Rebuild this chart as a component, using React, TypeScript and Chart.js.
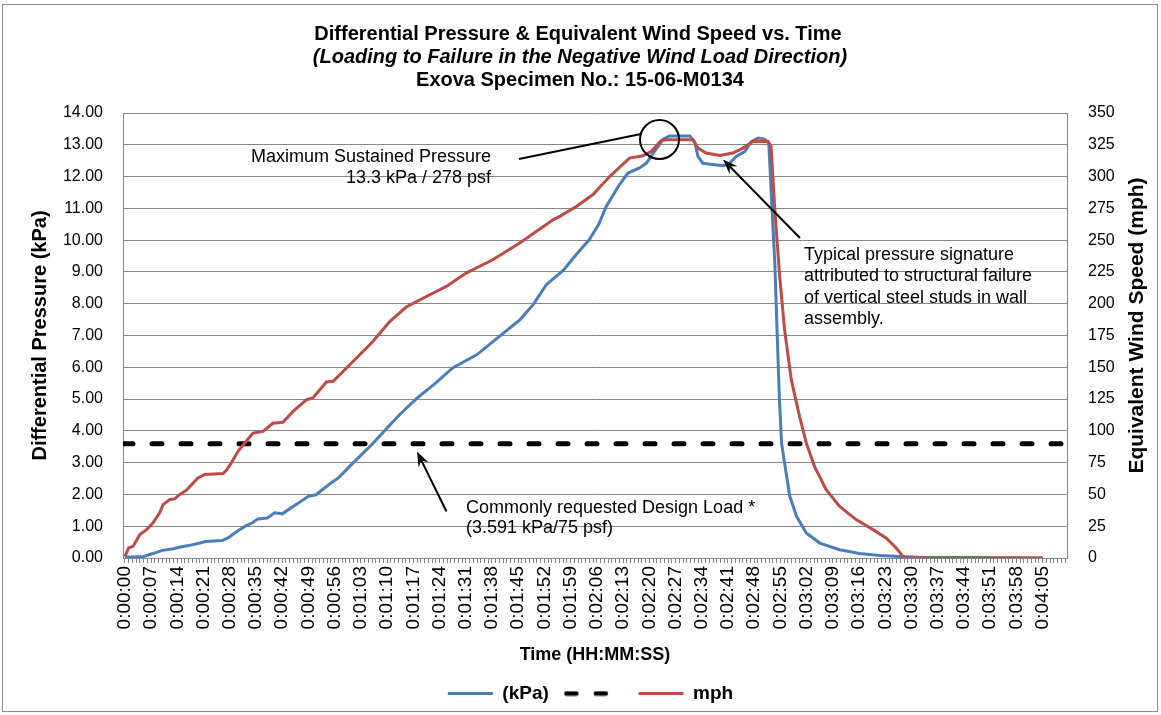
import React, { useEffect, useRef } from 'react';
import { Chart, registerables } from 'chart.js';

Chart.register(...registerables);

const FONT = '"Liberation Sans", Arial, Helvetica, sans-serif';
const BLUE = '#4A7EBB';
const RED = '#BE4B48';
const GRID = '#868686';

const titleLines = [
  'Differential Pressure & Equivalent Wind Speed vs. Time',
  '(Loading to Failure in the Negative Wind Load Direction)',
  'Exova Specimen No.: 15-06-M0134',
];
const leftAxisTitle = 'Differential Pressure (kPa)';
const rightAxisTitle = 'Equivalent Wind Speed (mph)';
const bottomAxisTitle = 'Time (HH:MM:SS)';

// x axis: one category per second, labelled every 7 s
const timeLabels = [
  '0:00:00', '0:00:07', '0:00:14', '0:00:21', '0:00:28', '0:00:35', '0:00:42', '0:00:49', '0:00:56',
  '0:01:03', '0:01:10', '0:01:17', '0:01:24', '0:01:31', '0:01:38', '0:01:45', '0:01:52', '0:01:59',
  '0:02:06', '0:02:13', '0:02:20', '0:02:27', '0:02:34', '0:02:41', '0:02:48', '0:02:55', '0:03:02',
  '0:03:09', '0:03:16', '0:03:23', '0:03:30', '0:03:37', '0:03:44', '0:03:51', '0:03:58', '0:04:05',
];
const labelStepSeconds = 7;
const timeAxisMin = -0.5;
const timeAxisMax = 251.5;
const lastSecond = 251;

const kpaTicks = [0, 1, 2, 3, 4, 5, 6, 7, 8, 9, 10, 11, 12, 13, 14];
const mphTicks = [0, 25, 50, 75, 100, 125, 150, 175, 200, 225, 250, 275, 300, 325, 350];

// Differential pressure (kPa) vs time (s)
const kpaTimes = [
  0, 5, 7.5, 10, 13, 14.5, 17, 20, 21.5, 26, 27.5, 30, 32.5, 34, 35.5, 38, 40, 42, 45, 49, 51, 55, 57,
  61, 66, 70, 73.5, 78, 83, 87.5, 94, 100, 105.5, 109, 112.5, 117, 120.5, 124, 126.5, 128.5, 132,
  134.3, 137.4, 139.2, 141.4, 143.7, 145.4, 150.8, 152.1, 153, 154.3, 159.7, 161.4, 163.2, 165.5,
  167.2, 169, 170.8, 171.9, 172.6, 173.5, 174.1, 174.7, 175.3, 176.1, 177.5, 179.3, 181.9, 185.5,
  190.8, 196.1, 201.5, 206.8, 212, 245,
];
const kpaValues = [
  0.02, 0.05, 0.14, 0.24, 0.29, 0.34, 0.39, 0.47, 0.52, 0.55, 0.63, 0.84, 1.03, 1.1, 1.23, 1.26, 1.42,
  1.39, 1.63, 1.94, 1.99, 2.36, 2.52, 3.0, 3.58, 4.09, 4.53, 5.03, 5.51, 5.98, 6.4, 6.97, 7.5, 7.97,
  8.6, 9.05, 9.55, 10.02, 10.5, 11.06, 11.74, 12.11, 12.27, 12.42, 12.79, 13.18, 13.28, 13.28, 13.1,
  12.63, 12.42, 12.34, 12.42, 12.63, 12.79, 13.1, 13.21, 13.18, 13.05, 11.37, 9.28, 7.18, 5.08, 3.62,
  2.99, 1.94, 1.31, 0.79, 0.47, 0.26, 0.14, 0.08, 0.05, 0.02, 0,
];

// Equivalent wind speed (mph) vs time (s)
const mphTimes = [
  0, 1, 2.2, 4, 5.8, 7.5, 9.3, 10.2, 12, 13.3, 14.6, 16.4, 19.5, 21.3, 26.2, 27.1, 28.4, 30.2, 32,
  34.2, 36.9, 39.5, 42.2, 44.9, 48.5, 50.2, 53.8, 55.6, 60.9, 66.2, 70.7, 75.1, 80.5, 85.8, 91.1,
  98.2, 105.4, 114.3, 116.1, 120.5, 124.9, 129.4, 134.7, 138.3, 140.5, 143.2, 144.5, 151.6, 153,
  155.2, 158.8, 162.3, 165, 167.7, 171.7, 172.5, 173.5, 174.8, 176.1, 177.9, 180.1, 181.9, 184.1,
  187.2, 190.8, 195.2, 199.7, 203.2, 205.9, 207.7, 208.5, 245,
];
const mphValues = [
  1, 8, 9.2, 18.4, 22.3, 27.6, 35.5, 42, 46, 46.5, 49.8, 53.2, 63, 65.6, 66.4, 69, 74.8, 83.9, 90.5,
  98.3, 99.6, 106, 106.7, 115.3, 124.5, 125.9, 138.4, 139, 154.6, 170.3, 186, 197.4, 205.7, 213.6,
  224.1, 234.6, 247.7, 266, 268.7, 276.5, 285.7, 300, 314.5, 316.3, 319.7, 328.4, 329, 329, 322.4,
  318.5, 316.6, 318.5, 322.4, 327.6, 327.6, 323.7, 274, 221.5, 179.6, 140.3, 111.4, 90.5, 72.1, 53.8,
  40.6, 30.2, 22.3, 15.8, 7.9, 1.3, 0, 0,
];

const designLoadKpa = 3.591;
const designLoadTimes = [timeAxisMin, timeAxisMax];

const maxPressureNote = ['Maximum Sustained Pressure', '13.3 kPa / 278 psf'];
const failureNote = [
  'Typical pressure signature',
  'attributed to structural failure',
  'of vertical steel studs in wall',
  'assembly.',
];
const designNote = ['Commonly requested Design Load *', '(3.591 kPa/75 psf)'];

function drawArrow(ctx: CanvasRenderingContext2D, x1: number, y1: number, x2: number, y2: number) {
  const a = Math.atan2(y2 - y1, x2 - x1);
  const L = 15;
  const W = 5.5;
  const c = Math.cos(a);
  const s = Math.sin(a);
  ctx.beginPath();
  ctx.moveTo(x1, y1);
  ctx.lineTo(x2 - c * L * 0.6, y2 - s * L * 0.6);
  ctx.stroke();
  ctx.beginPath();
  ctx.moveTo(x2, y2);
  ctx.lineTo(x2 - L * c + W * s, y2 - L * s - W * c);
  ctx.lineTo(x2 - L * 0.65 * c, y2 - L * 0.65 * s);
  ctx.lineTo(x2 - L * c - W * s, y2 - L * s + W * c);
  ctx.closePath();
  ctx.fill();
}

function makeDashSample(): HTMLCanvasElement {
  const c = document.createElement('canvas');
  c.width = 45;
  c.height = 6;
  const g = c.getContext('2d');
  if (g) {
    g.strokeStyle = '#000';
    g.lineWidth = 4.5;
    g.lineCap = 'round';
    g.beginPath();
    g.moveTo(2.5, 3);
    g.lineTo(12.5, 3);
    g.moveTo(32, 3);
    g.lineTo(42, 3);
    g.stroke();
  }
  return c;
}

const overlayPlugin = {
  id: 'overlay',
  afterDraw(chart: any) {
    const ctx: CanvasRenderingContext2D = chart.ctx;
    const area = chart.chartArea;
    ctx.save();
    // chart border
    ctx.strokeStyle = '#8c8c8c';
    ctx.lineWidth = 1;
    ctx.strokeRect(2.5, 4.5, 1155, 707);

    // titles
    ctx.fillStyle = '#000';
    ctx.textAlign = 'center';
    ctx.textBaseline = 'middle';
    ctx.font = `bold 20px ${FONT}`;
    ctx.fillText(titleLines[0], 578, 34);
    ctx.font = `italic bold 20px ${FONT}`;
    ctx.fillText(titleLines[1], 580, 57);
    ctx.font = `bold 20px ${FONT}`;
    ctx.fillText(titleLines[2], 580, 80);

    // axis titles
    const cy = (area.top + area.bottom) / 2;
    ctx.font = `bold 20px ${FONT}`;
    ctx.save();
    ctx.translate(40, cy);
    ctx.rotate(-Math.PI / 2);
    ctx.fillText(leftAxisTitle, 0, 0);
    ctx.restore();
    ctx.font = `bold 21px ${FONT}`;
    ctx.save();
    ctx.translate(1137, cy - 10);
    ctx.rotate(-Math.PI / 2);
    ctx.fillText(rightAxisTitle, 0, 0);
    ctx.restore();

    // annotations
    ctx.font = `18px ${FONT}`;
    ctx.strokeStyle = '#000';
    ctx.fillStyle = '#000';
    ctx.lineWidth = 2;
    ctx.textAlign = 'right';
    ctx.fillText(maxPressureNote[0], 491, 157);
    ctx.fillText(maxPressureNote[1], 491, 178);
    ctx.beginPath();
    ctx.moveTo(519, 159);
    ctx.lineTo(641, 134);
    ctx.stroke();
    ctx.beginPath();
    ctx.arc(659.5, 139.5, 19.5, 0, Math.PI * 2);
    ctx.stroke();

    ctx.textAlign = 'left';
    failureNote.forEach((t, i) => ctx.fillText(t, 804, 255 + i * 21.4));
    drawArrow(ctx, 800, 238, 723, 159.5);

    designNote.forEach((t, i) => ctx.fillText(t, 466, 508 + i * 20.5));
    drawArrow(ctx, 446.5, 511.5, 417, 451.5);
    ctx.restore();
  },
};

export default function App() {
  const ref = useRef<HTMLCanvasElement | null>(null);

  useEffect(() => {
    document.body.style.margin = '0';
    const canvas = ref.current;
    if (!canvas) return;
    Chart.defaults.font.family = FONT;
    Chart.defaults.color = '#000';

    const minorSeconds = Array.from({ length: lastSecond + 1 }, (_, i) => i);
    const dashSample = makeDashSample();
    const baseLabels = (Chart.defaults as any).plugins.legend.labels.generateLabels;

    const chart = new Chart(canvas, {
      type: 'line',
      data: {
        datasets: [
          {
            label: '(kPa)',
            data: kpaTimes.map((t, i) => ({ x: t, y: kpaValues[i] })),
            borderColor: BLUE,
            backgroundColor: BLUE,
            borderWidth: 3,
            pointRadius: 0,
            yAxisID: 'y',
            order: 2,
          },
          {
            label: ' ',
            data: designLoadTimes.map((t) => ({ x: t, y: designLoadKpa })),
            borderColor: '#000',
            backgroundColor: '#000',
            borderWidth: 5,
            borderDash: [10, 19],
            borderCapStyle: 'round',
            pointRadius: 0,
            yAxisID: 'y',
            order: 1,
          },
          {
            label: 'mph',
            data: mphTimes.map((t, i) => ({ x: t, y: mphValues[i] })),
            borderColor: RED,
            backgroundColor: RED,
            borderWidth: 3,
            pointRadius: 0,
            yAxisID: 'y1',
            order: 0,
          },
        ],
      },
      options: {
        animation: false,
        responsive: false,
        events: [],
        layout: { padding: { top: 113, bottom: 2, left: 20, right: 0 } },
        scales: {
          x: {
            type: 'linear',
            min: timeAxisMin,
            max: timeAxisMax,
            afterBuildTicks: (s: any) => {
              s.ticks = minorSeconds.map((v) => ({ value: v }));
            },
            afterFit: (s: any) => {
              const lh = s.chart.legend ? s.chart.legend.height : 40;
              s.height = s.chart.height - 558 - lh - 2;
            },
            ticks: {
              autoSkip: false,
              minRotation: 90,
              maxRotation: 90,
              padding: 3,
              font: { size: 19 },
              color: '#000',
              callback: (v: any) =>
                Number(v) % labelStepSeconds === 0 ? timeLabels[Number(v) / labelStepSeconds] ?? '' : '',
            },
            grid: { drawOnChartArea: false, drawTicks: true, tickLength: 5, color: GRID },
            border: { color: GRID },
            title: {
              display: true,
              text: bottomAxisTitle,
              font: { size: 18, weight: 'bold' },
              color: '#000',
              padding: { top: 0, bottom: 3 },
            },
          },
          y: {
            position: 'left',
            min: 0,
            max: 14,
            afterBuildTicks: (s: any) => {
              s.ticks = kpaTicks.map((v) => ({ value: v }));
            },
            afterFit: (s: any) => {
              s.width = 103;
            },
            ticks: {
              font: { size: 16 },
              color: '#000',
              padding: 20,
              callback: (v: any) => Number(v).toFixed(2),
            },
            grid: { color: GRID, drawTicks: false },
            border: { color: GRID },
          },
          y1: {
            position: 'right',
            min: 0,
            max: 350,
            afterBuildTicks: (s: any) => {
              s.ticks = mphTicks.map((v) => ({ value: v }));
            },
            afterFit: (s: any) => {
              s.width = 94;
            },
            ticks: {
              font: { size: 16 },
              color: '#000',
              padding: 21,
              callback: (v: any) => String(v),
            },
            grid: { drawOnChartArea: false, drawTicks: false },
            border: { color: GRID },
          },
        },
        plugins: {
          title: { display: false },
          tooltip: { enabled: false },
          legend: {
            position: 'bottom',
            labels: {
              usePointStyle: true,
              pointStyle: 'line',
              pointStyleWidth: 45,
              font: { size: 19, weight: 'bold' },
              color: '#000',
              padding: 15,
              generateLabels: (c: any) => {
                const items = baseLabels(c);
                items.forEach((it: any) => {
                  if (it.datasetIndex === 1) it.pointStyle = dashSample;
                });
                return items;
              },
              sort: (a: any, b: any) => a.datasetIndex - b.datasetIndex,
            },
          },
        },
      } as any,
      plugins: [overlayPlugin],
    });

    return () => chart.destroy();
  }, []);

  return (
    <div style={{ position: 'absolute', left: 0, top: 0, width: 1161, height: 715, background: '#fff' }}>
      <canvas ref={ref} width={1161} height={715} style={{ display: 'block' }} />
    </div>
  );
}
